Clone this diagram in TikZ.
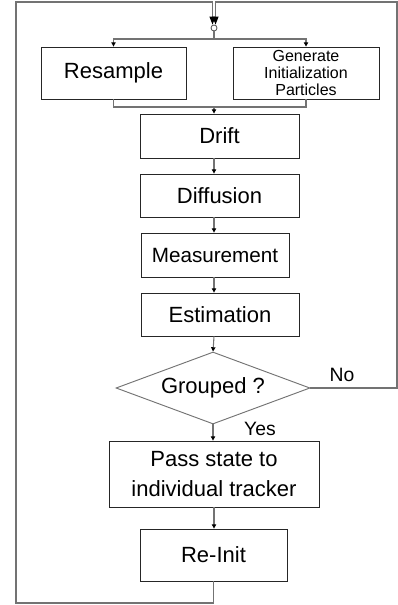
\documentclass[tikz,border=0pt]{standalone}
\usepackage{fontspec}
\setmainfont{Liberation Sans}
\usepackage{tikz}
\usetikzlibrary{positioning, arrows.meta, shapes.geometric}

\tikzset{
    stage/.style={draw=black!85, line width=0.6pt, fill=white, inner sep=0pt, align=center,
        font=\fontsize{16.5}{23}\selectfont},
    boxsize/.style 2 args={minimum width=#1*0.75pt, minimum height=#2*0.75pt},
    decision/.style={diamond, draw=black!55, line width=0.7pt, fill=white, inner sep=0pt, aspect=2.7,
        font=\fontsize{16.5}{23}\selectfont},
    flow/.style={draw=black!55, line width=0.8pt},
    flowarr/.style={flow, -{Triangle[width=3.2pt,length=3.2pt,color=black]}},
    looparr/.style={flow, -{Triangle[width=4.5pt,length=6pt,color=black]}},
    answer/.style={font=\fontsize{14.5}{17}\selectfont, inner sep=0pt}
}

\begin{document}
\begin{tikzpicture}[x=0.75pt, y=-0.75pt]
    \useasboundingbox (0,0) rectangle (398,605);

    % Junction at the top
    \node[circle, draw=black!70, fill=white, line width=0.6pt, inner sep=0pt, minimum size=4.5pt] (junc) at (214,28) {};
    \coordinate (split) at (214,39);
    \coordinate (merge) at (214,107);

    % Particle sources
    \node[stage, boxsize={145}{52}] (resample) at (113.5,73) {Resample};
    \node[stage, boxsize={146}{52}, font=\fontsize{12}{12.5}\selectfont] (generate) at (306,73)
        {Generate\\Initialization\\Particles};

    % Filter steps
    \node[stage, boxsize={159}{44}] (drift) at (219.5,136) {Drift};
    \node[stage, boxsize={159}{43}] (diffusion) at (219.5,195.5) {Diffusion};
    \node[stage, boxsize={148}{44}, font=\fontsize{15.5}{20}\selectfont] (measure) at (215,255) {Measurement};
    \node[stage, boxsize={158}{43}] (estimate) at (220,314.5) {Estimation};

    % Decision and hand-over
    \node[decision, boxsize={194}{72}] (grouped) at (213,388) {Grouped ?};
    \node[stage, boxsize={210}{66}] (pass) at (214,474) {Pass state to\\individual tracker};
    \node[stage, boxsize={147}{52}] (reinit) at (213.5,555) {Re-Init};

    \node[answer] (nolabel) at (342,375) {No};
    \node[answer] (yeslabel) at (260,429) {Yes};

    % Loop corners
    \coordinate (cornerBL) at (16,603);
    \coordinate (cornerTL) at (16,2);
    \coordinate (topL) at (212.5,2);
    \coordinate (cornerR) at (397,388);
    \coordinate (cornerTR) at (397,2);
    \coordinate (topR) at (215.5,2);

    % Connectors
    \draw[flow] (junc) -- (split);
    \draw[flowarr] (split) -| (resample.north);
    \draw[flowarr] (split) -| (generate.north);
    \draw[flow] (resample.south) |- (merge) -| (generate.south);
    \draw[flowarr] (merge) -- (merge |- drift.north);
    \draw[flowarr] (drift.south -| merge) -- (merge |- diffusion.north);
    \draw[flowarr] (diffusion.south -| merge) -- (merge |- measure.north);
    \draw[flowarr] (measure.south -| merge) -- (merge |- estimate.north);
    \draw[flowarr] (estimate.south -| merge) -- (grouped.north);
    \draw[flowarr] (grouped.south) -- (grouped.south |- pass.north);
    \draw[flowarr] (pass.south) -- (pass.south |- reinit.north);

    % Feedback loops
    \draw[looparr] (reinit.south) |- (cornerBL) -- (cornerTL) -- (topL) -- (topL |- junc.north);
    \draw[looparr] (grouped.east) -- (cornerR) -- (cornerTR) -- (topR) -- (topR |- junc.north);

\end{tikzpicture}
\end{document}
